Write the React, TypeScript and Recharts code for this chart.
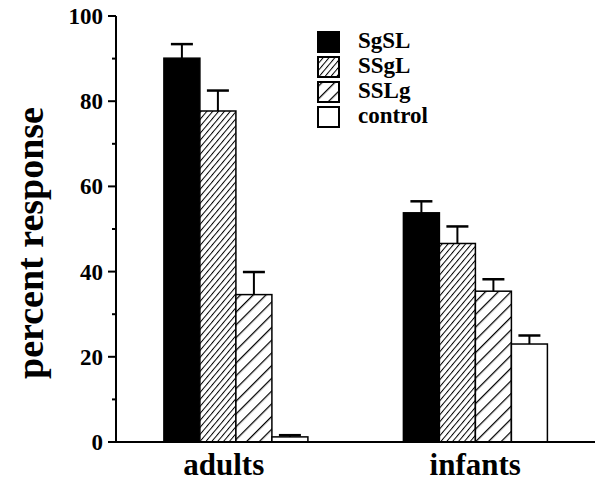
import { BarChart, Bar, XAxis, YAxis, Legend, Label } from 'recharts';

const categories = ['adults', 'infants'];
const seriesNames = ['SgSL', 'SSgL', 'SSLg', 'control'];

// mean percent response and upper error (SE) per group
const sgsl = [90.1, 53.8];
const sgslErr = [3.3, 2.7];
const ssgl = [77.7, 46.6];
const ssglErr = [4.8, 4.0];
const sslg = [34.6, 35.4];
const sslgErr = [5.3, 2.8];
const control = [1.2, 23.0];
const controlErr = [0.4, 2.0];

const yTicks = [0, 10, 20, 30, 40, 50, 60, 70, 80, 90, 100];

const FONT = '"Liberation Serif", "Times New Roman", serif';

const data = categories.map((name, i) => ({
  name,
  SgSL: sgsl[i],
  SgSLErr: sgslErr[i],
  SSgL: ssgl[i],
  SSgLErr: ssglErr[i],
  SSLg: sslg[i],
  SSLgErr: sslgErr[i],
  control: control[i],
  controlErr: controlErr[i],
}));

const fills: Record<string, string> = {
  SgSL: '#000',
  SSgL: 'url(#fineHatch)',
  SSLg: 'url(#wideHatch)',
  control: '#fff',
};

function Patterns({ prefix = '' }: { prefix?: string }) {
  return (
    <defs>
      <pattern id={`${prefix}fineHatch`} patternUnits="userSpaceOnUse" width={4.5} height={4.5} patternTransform="rotate(40)">
        <rect width={4.5} height={4.5} fill="#fff" />
        <line x1={0} y1={0} x2={0} y2={4.5} stroke="#000" strokeWidth={2} />
      </pattern>
      <pattern id={`${prefix}wideHatch`} patternUnits="userSpaceOnUse" width={9} height={9} patternTransform="rotate(45)">
        <rect width={9} height={9} fill="#fff" />
        <line x1={0} y1={0} x2={0} y2={9} stroke="#000" strokeWidth={2.5} />
      </pattern>
    </defs>
  );
}

// bar with an upper-only error whisker, scaled from the bar's own pixel height
function makeShape(series: string) {
  return (props: any) => {
    const { x, y, width, height, payload, fill } = props;
    const value = payload[series];
    const err = payload[`${series}Err`];
    const pxPerUnit = value ? height / value : 0;
    const top = y - err * pxPerUnit;
    const cx = x + width / 2;
    return (
      <g>
        <rect x={x} y={y} width={width} height={height} fill={fill} stroke="#000" strokeWidth={1.5} />
        <line x1={cx} x2={cx} y1={y} y2={top} stroke="#000" strokeWidth={2} />
        <line x1={cx - 11} x2={cx + 11} y1={top} y2={top} stroke="#000" strokeWidth={2.5} />
      </g>
    );
  };
}

function YTick({ x, y, payload }: any) {
  const major = payload.value % 20 === 0;
  const len = major ? 8 : 4;
  return (
    <g>
      <line x1={x - len} x2={x} y1={y} y2={y} stroke="#000" strokeWidth={2} />
      {major && (
        <text x={x - 13} y={y + 8} textAnchor="end" fontSize={23} fontWeight="bold" fontFamily={FONT} fill="#000">
          {payload.value}
        </text>
      )}
    </g>
  );
}

function XTick({ x, y, payload, index }: any) {
  return (
    <text x={x - (index === 0 ? 12 : 0)} y={y + 33} textAnchor="middle" fontSize={31} fontWeight="bold" fontFamily={FONT} fill="#000">
      {payload.value}
    </text>
  );
}

function LegendBox() {
  const legendFills: Record<string, string> = {
    SgSL: '#000',
    SSgL: 'url(#lg-fineHatch)',
    SSLg: 'url(#lg-wideHatch)',
    control: '#fff',
  };
  return (
    <svg width={140} height={112}>
      <Patterns prefix="lg-" />
      {seriesNames.map((s, i) => (
        <g key={s}>
          <rect x={5} y={5 + i * 25} width={21} height={20} fill={legendFills[s]} stroke="#000" strokeWidth={2} />
          <text x={45} y={21 + i * 25} fontSize={23} fontWeight="bold" fontFamily={FONT} fill="#000">
            {s}
          </text>
        </g>
      ))}
    </svg>
  );
}

export default function App() {
  return (
    <div style={{ position: 'absolute', left: 0, top: 0, background: '#fff' }}>
      <BarChart
        width={595}
        height={482}
        data={data}
        margin={{ top: 16, right: 0, bottom: 0, left: 0 }}
        barCategoryGap="20%"
        barGap={0}
      >
        <Patterns />
        <XAxis
          dataKey="name"
          height={40}
          axisLine={{ stroke: '#000', strokeWidth: 2 }}
          tickLine={false}
          tickSize={0}
          tickMargin={0}
          tick={<XTick />}
        />
        <YAxis
          domain={[0, 100]}
          ticks={yTicks}
          interval={0}
          width={116}
          axisLine={{ stroke: '#000', strokeWidth: 2 }}
          tickLine={false}
          tickSize={0}
          tickMargin={0}
          tick={<YTick />}
        >
          <Label
            content={() => (
              <text
                x={30}
                y={243}
                transform="rotate(-90, 30, 243)"
                textAnchor="middle"
                dominantBaseline="central"
                fontSize={38}
                fontWeight="bold"
                fontFamily={FONT}
                fill="#000"
              >
                percent response
              </text>
            )}
          />
        </YAxis>
        <Legend
          layout="vertical"
          align="center"
          verticalAlign="middle"
          content={<LegendBox />}
          wrapperStyle={{ left: 313, top: 27, width: 140 }}
        />
        {seriesNames.map((s) => (
          <Bar key={s} dataKey={s} fill={fills[s]} shape={makeShape(s)} isAnimationActive={false} />
        ))}
      </BarChart>
    </div>
  );
}
